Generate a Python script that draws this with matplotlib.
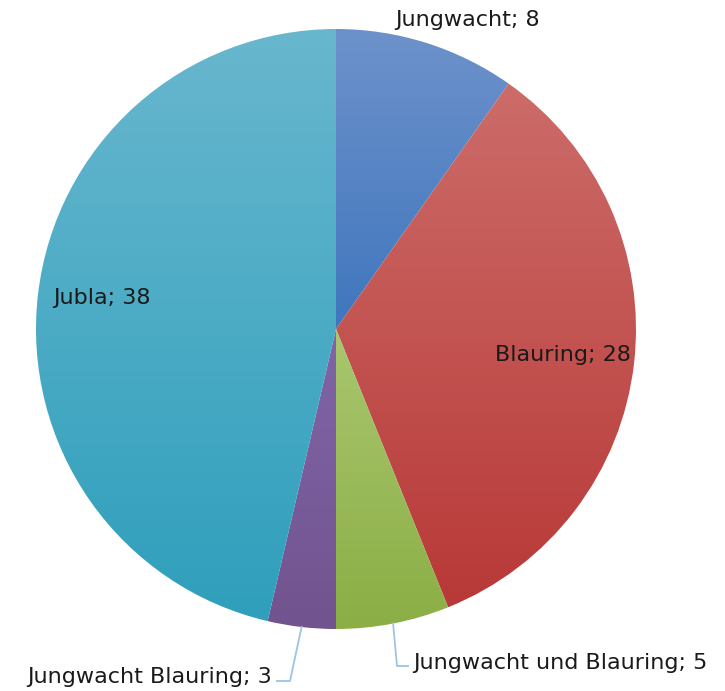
import numpy as np
import matplotlib.pyplot as plt
from matplotlib.colors import LinearSegmentedColormap

names = ["Jungwacht", "Blauring", "Jungwacht und Blauring", "Jungwacht Blauring", "Jubla"]
values = [8, 28, 5, 3, 38]
top_colors = ["#6d92cb", "#cc6c69", "#a9c76f", "#8065a8", "#68b7ce"]
bottom_colors = ["#3f76bd", "#b83937", "#8bae45", "#71538e", "#2f9fbc"]

W, H = 725, 691
cx, cy, R = 336, 329, 300

fig = plt.figure(figsize=(W / 100, H / 100), dpi=100)
ax = fig.add_axes([0, 0, 1, 1])

wedges, _ = ax.pie(values, center=(cx, -cy), radius=R, startangle=90,
                   counterclock=False, frame=True,
                   wedgeprops=dict(linewidth=0, edgecolor="none"))

# vertical gradient per slice
for w, c0, c1 in zip(wedges, top_colors, bottom_colors):
    w.set_facecolor("none")
    bb = w.get_path().get_extents()
    cmap = LinearSegmentedColormap.from_list("g", [c0, c1])
    grad = np.linspace(0, 1, 256).reshape(-1, 1)
    im = ax.imshow(grad, cmap=cmap, aspect="auto",
                   extent=[bb.x0, bb.x1, bb.y0, bb.y1], origin="upper",
                   interpolation="bilinear")
    im.set_clip_path(w)

ax.set_xlim(0, W)
ax.set_ylim(-H, 0)
ax.axis("off")

font = dict(fontsize=16, color="#1a1a1a", family="DejaVu Sans")
labels = [f"{n}; {v}" for n, v in zip(names, values)]

ax.text(395, -20, labels[0], ha="left", va="center", **font)
ax.text(563, -355, labels[1], ha="center", va="center", **font)
ax.text(413, -663, labels[2], ha="left", va="center", **font)
ax.text(272, -677, labels[3], ha="right", va="center", **font)
ax.text(102, -298, labels[4], ha="center", va="center", **font)

# leader lines for the two small slices
mids = [(w.theta1 + w.theta2) / 2 for w in wedges]
line_kw = dict(color="#9dc3e6", lw=1.3)
a = np.deg2rad(mids[2])
x0, y0 = cx + R * np.cos(a), -cy + R * np.sin(a)
ax.plot([x0, 397, 408], [y0, -666, -666], **line_kw)
a = np.deg2rad(mids[3])
x0, y0 = cx + R * np.cos(a), -cy + R * np.sin(a)
ax.plot([x0, 290, 277], [y0, -681, -681], **line_kw)

fig.savefig("out.png", dpi=100)
